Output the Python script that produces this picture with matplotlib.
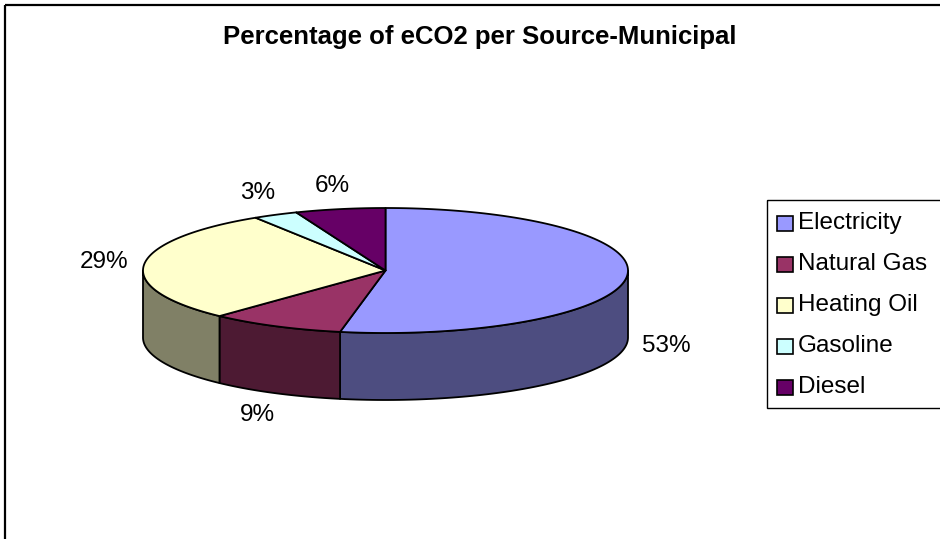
import matplotlib.pyplot as plt
import numpy as np
from matplotlib.patches import Polygon, Rectangle

plt.rcParams['font.family'] = ['Liberation Sans', 'DejaVu Sans']

categories = ['Electricity', 'Natural Gas', 'Heating Oil', 'Gasoline', 'Diesel']
values = [53, 9, 29, 3, 6]
top_colors = ['#9999FF', '#993366', '#FFFFCC', '#CCFFFF', '#660066']
side_colors = ['#4D4D80', '#4D1A33', '#808066', '#668080', '#330033']

# pie geometry in pixel space
cx, cy = 385.5, 270.5
rx, ry = 242.5, 62.5
depth = 67

fig = plt.figure(figsize=(9.4, 5.39), dpi=100)
ax = fig.add_axes([0, 0, 1, 1])
ax.set_xlim(0, 940)
ax.set_ylim(539, 0)
ax.axis('off')

# outer chart frame (runs off the right/bottom edges)
ax.add_patch(Rectangle((5, 5), 1000, 1000, fill=False, edgecolor='black', lw=1.6))

ax.text(480, 37, 'Percentage of eCO2 per Source-Municipal', ha='center', va='center',
        fontsize=18.5, fontweight='bold')


def ept(theta, dy=0):
    t = np.radians(theta)
    return cx + rx * np.cos(t), cy - ry * np.sin(t) + dy


# angles: start at 12 o'clock, clockwise
total = sum(values)
bounds = [90.0]
for v in values:
    bounds.append(bounds[-1] - v / total * 360)

# sides (only front half, angles between -180 and 0)
for i in range(len(values)):
    a1, a2 = bounds[i], bounds[i + 1]
    lo, hi = max(a2, -180), min(a1, 0)
    if hi <= lo:
        continue
    th = np.linspace(hi, lo, 80)
    topp = [ept(t) for t in th]
    botp = [ept(t, depth) for t in th[::-1]]
    ax.add_patch(Polygon(topp + botp, closed=True, facecolor=side_colors[i],
                         edgecolor='black', lw=1.3, joinstyle='round'))

# top faces
for i in range(len(values)):
    a1, a2 = bounds[i], bounds[i + 1]
    th = np.linspace(a1, a2, 120)
    pts = [(cx, cy)] + [ept(t) for t in th]
    ax.add_patch(Polygon(pts, closed=True, facecolor=top_colors[i],
                         edgecolor='black', lw=1.3, joinstyle='round'))

# percentage labels
for i, v in enumerate(values):
    mid = np.radians((bounds[i] + bounds[i + 1]) / 2)
    lx = cx + (rx + 40) * np.cos(mid)
    ly = cy - (ry + 24) * np.sin(mid)
    if np.sin(mid) < 0:
        ly += depth
    ax.text(lx, ly, f'{v}%', ha='center', va='center', fontsize=17.5)

# legend
ax.add_patch(Rectangle((767, 200), 300, 208, fill=False, edgecolor='black', lw=1.0))
for i, name in enumerate(categories):
    yy = 223 + i * 41
    ax.add_patch(Rectangle((777, yy - 7.5), 16, 15, facecolor=top_colors[i],
                           edgecolor='black', lw=1.2))
    ax.text(798, yy, name, ha='left', va='center', fontsize=17.5)

fig.savefig('out.png', dpi=100)
